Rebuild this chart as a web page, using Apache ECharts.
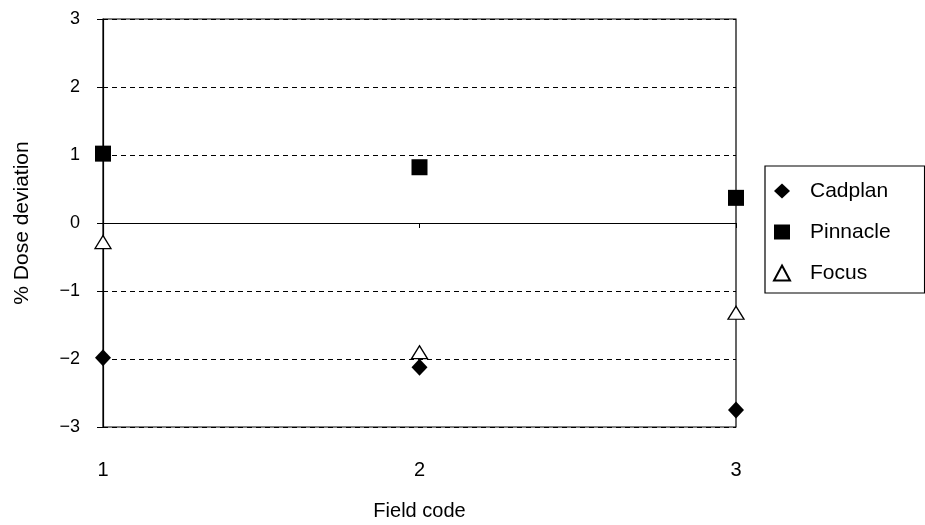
<!DOCTYPE html>
<html>
<head>
<meta charset="utf-8">
<script src="https://cdn.jsdelivr.net/npm/echarts@6/dist/echarts.min.js"></script>
<style>html,body{margin:0;padding:0;background:#fff}#c{width:925px;height:525px}</style>
</head>
<body>
<div id="c"></div>
<script>
const fieldCodes = [1, 2, 3];
const cadplan = [-1.98, -2.12, -2.75];
const pinnacle = [1.02, 0.82, 0.37];
const focus = [-0.28, -1.9, -1.32];
const yTicks = [-3, -2, -1, 0, 1, 2, 3];

const font = 'Liberation Sans, Arial, sans-serif';
const chart = echarts.init(document.getElementById('c'));
function pts(vals){ return fieldCodes.map((x,i)=>[x, vals[i]]); }
chart.setOption({
  animation: false,
  backgroundColor: '#fff',
  textStyle: { fontFamily: font, color: '#000' },
  grid: { left: 103, right: 189, top: 19, bottom: 98, show: true, borderColor: '#000', borderWidth: 1.2,
    backgroundColor: 'transparent', outerBoundsMode: 'none', containLabel: false },
  xAxis: [{
    type: 'value', min: 1, max: 3, interval: 1,
    axisLine: { show: true, onZero: true, lineStyle: { color: '#000', width: 1.2 } },
    axisTick: { show: true, length: 5, lineStyle: { color: '#000' } },
    axisLabel: { show: false }, splitLine: { show: false }
  }, {
    type: 'value', min: 1, max: 3, interval: 1, position: 'bottom',
    axisLine: { show: false, onZero: false }, axisTick: { show: false }, splitLine: { show: false },
    axisLabel: { color: '#000', fontSize: 20, margin: 33, fontFamily: font },
    name: 'Field code', nameLocation: 'middle', nameGap: 74,
    nameTextStyle: { color: '#000', fontSize: 20, fontFamily: font }
  }],
  yAxis: {
    type: 'value', min: -3, max: 3, interval: 1,
    axisLine: { show: true, onZero: false, lineStyle: { color: '#000', width: 1.2 } },
    axisTick: { show: true, length: 6, lineStyle: { color: '#000' } },
    splitLine: { show: true, lineStyle: { color: '#000', type: [5, 4], width: 1 } },
    axisLabel: { color: '#000', fontSize: 18, margin: 23, fontFamily: font,
      formatter: v => String(v).replace('-', '\u2212') },
    name: '% Dose deviation', nameLocation: 'middle', nameGap: 70,
    nameTextStyle: { color: '#000', fontSize: 21, fontFamily: font }
  },
  legend: {
    orient: 'vertical', left: 765, top: 166,
    padding: [13, 34, 8, 8], itemGap: 17, itemWidth: 16, itemHeight: 15,
    borderColor: '#000', borderWidth: 1.2, backgroundColor: '#fff',
    textStyle: { color: '#000', fontSize: 21, lineHeight: 24, fontFamily: font, padding: [0, 0, 0, 15] },
    data: [{ name: 'Cadplan', icon: 'diamond' }, { name: 'Pinnacle', icon: 'rect' }, { name: 'Focus', icon: 'triangle' }]
  },
  series: [
    { name: 'Cadplan', type: 'scatter', clip: false, symbol: 'diamond', symbolSize: [16, 17],
      itemStyle: { color: '#000', opacity: 1 }, data: pts(cadplan), z: 5 },
    { name: 'Pinnacle', type: 'scatter', clip: false, symbol: 'rect', symbolSize: 16,
      itemStyle: { color: '#000', opacity: 1 }, data: pts(pinnacle), z: 5 },
    { name: 'Focus', type: 'scatter', clip: false, symbol: 'triangle', symbolSize: [16, 13],
      itemStyle: { color: '#fff', borderColor: '#000', borderWidth: 1.3, opacity: 1 }, data: pts(focus), z: 6 }
  ]
});
</script>
</body>
</html>
